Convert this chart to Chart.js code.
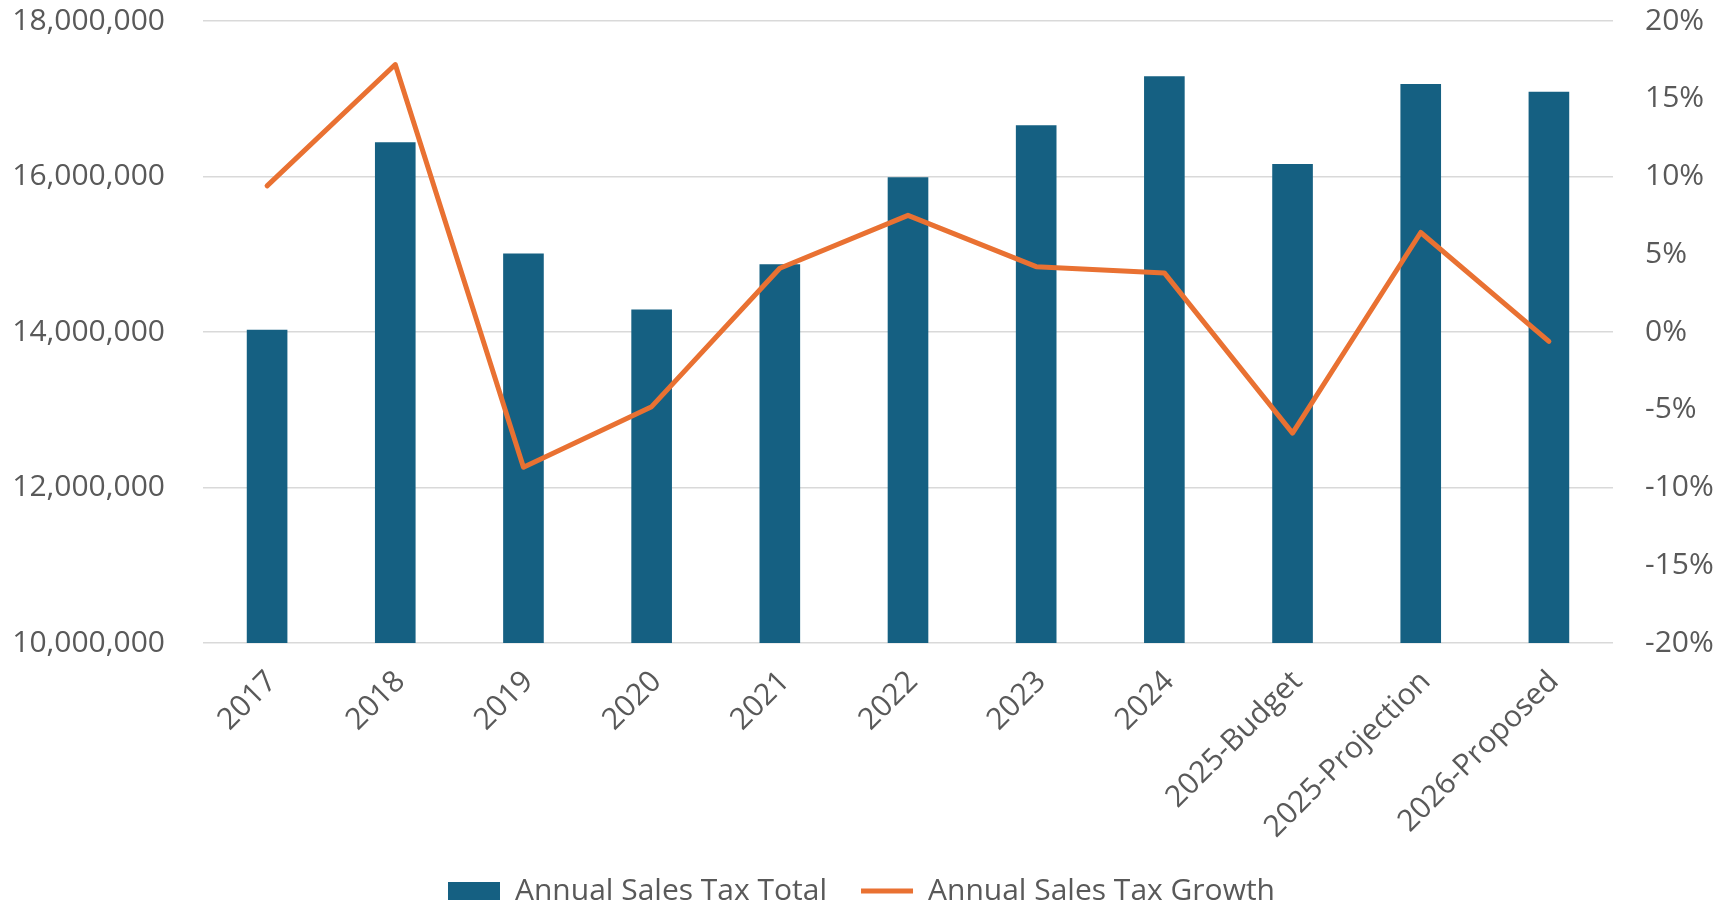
<!DOCTYPE html>
<html>
<head>
<meta charset="utf-8">
<script src="https://cdn.jsdelivr.net/npm/chart.js@4"></script>
<style>
  html, body { margin: 0; padding: 0; background: #ffffff; }
  #wrap { width: 1723px; height: 907px; }
</style>
</head>
<body>
<div id="wrap"><canvas id="chart" width="1723" height="907"></canvas></div>
<script>
// Categories (fiscal years and plan versions)
const categories = ['2017', '2018', '2019', '2020', '2021', '2022', '2023', '2024',
  '2025-Budget', '2025-Projection', '2026-Proposed'];

// Annual sales tax totals (dollars)
const salesTaxTotal = [14030000, 16440000, 15010000, 14290000, 14870000, 15990000,
  16660000, 17290000, 16160000, 17190000, 17090000];

// Year-over-year growth (percent)
const salesTaxGrowth = [9.4, 17.2, -8.7, -4.8, 4.1, 7.5, 4.2, 3.8, -6.5, 6.4, -0.6];

// Axis tick settings
const totalTicks = { min: 10000000, max: 18000000, step: 2000000 };
const growthTicks = { min: -20, max: 20, step: 5 };

const FONT = "'Open Sans', 'Noto Sans', sans-serif";
const TICK_COLOR = '#595959';
const GRID_COLOR = '#D9D9D9';

// Fixed axis widths; drop the extra vertical padding the value axes ask for
function fixValueAxis(width) {
  return (scale) => {
    scale.width = width;
    scale.paddingTop = 0;
    scale.paddingBottom = 0;
  };
}

new Chart(document.getElementById('chart'), {
  data: {
    labels: categories,
    datasets: [
      {
        type: 'bar',
        label: 'Annual Sales Tax Total',
        data: salesTaxTotal,
        backgroundColor: '#156082',
        borderWidth: 0,
        categoryPercentage: 1,
        barPercentage: 0.317,
        pointStyle: 'rect',
        yAxisID: 'y',
        order: 1
      },
      {
        type: 'line',
        label: 'Annual Sales Tax Growth',
        data: salesTaxGrowth,
        borderColor: '#E97132',
        backgroundColor: '#E97132',
        borderWidth: 5,
        borderCapStyle: 'round',
        borderJoinStyle: 'round',
        pointRadius: 0,
        pointHoverRadius: 0,
        pointStyle: 'line',
        tension: 0,
        yAxisID: 'y1',
        order: 0
      }
    ]
  },
  options: {
    responsive: false,
    animation: false,
    devicePixelRatio: 1,
    layout: { padding: { top: 21, left: 0, right: 0, bottom: 0 } },
    plugins: {
      tooltip: { enabled: false },
      legend: {
        position: 'bottom',
        maxHeight: 65,
        labels: {
          font: { family: FONT, size: 30 },
          color: TICK_COLOR,
          usePointStyle: true,
          pointStyleWidth: 52,
          boxHeight: 18,
          padding: 34,
          sort: (a, b) => a.datasetIndex - b.datasetIndex
        }
      }
    },
    scales: {
      x: {
        grid: { display: false, drawTicks: false },
        border: { display: false },
        ticks: {
          font: { family: FONT, size: 30 },
          color: TICK_COLOR,
          minRotation: 45,
          maxRotation: 45,
          autoSkip: false,
          padding: 21,
          labelOffset: 5
        },
        afterFit: (scale) => { scale.height = 199; }
      },
      y: {
        position: 'left',
        min: totalTicks.min,
        max: totalTicks.max,
        grid: { color: GRID_COLOR, lineWidth: 1.5, drawTicks: false },
        border: { display: false },
        ticks: {
          stepSize: totalTicks.step,
          font: { family: FONT, size: 30 },
          color: TICK_COLOR,
          padding: 38,
          callback: (v) => Number(v).toLocaleString('en-US')
        },
        afterFit: fixValueAxis(203)
      },
      y1: {
        position: 'right',
        min: growthTicks.min,
        max: growthTicks.max,
        grid: { display: false, drawTicks: false },
        border: { display: false },
        ticks: {
          stepSize: growthTicks.step,
          font: { family: FONT, size: 30 },
          color: TICK_COLOR,
          padding: 32,
          callback: (v) => v + '%'
        },
        afterFit: fixValueAxis(110)
      }
    }
  }
});
</script>
</body>
</html>
